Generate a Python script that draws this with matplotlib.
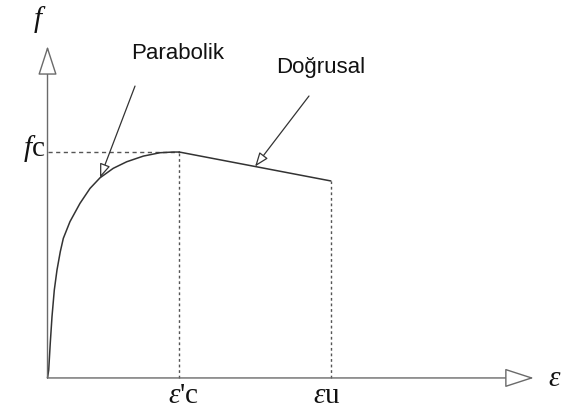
import numpy as np
import matplotlib.pyplot as plt

plt.rcParams['mathtext.fontset'] = 'custom'
plt.rcParams['mathtext.rm'] = 'Liberation Serif'
plt.rcParams['mathtext.it'] = 'Liberation Serif:italic'

# strain in per mille, stress normalised by fc
eps_c = 2.0
eps_u = 4.3
f_u = 0.872

# ascending (parabolic) branch
para_eps = [0.0, 0.018, 0.042, 0.068, 0.103, 0.144, 0.194, 0.240, 0.341, 0.493,
            0.645, 0.797, 0.998, 1.202, 1.454, 1.707, 1.909, 2.0]
para_f = [0.0, 0.035, 0.155, 0.271, 0.389, 0.478, 0.559, 0.618, 0.692, 0.773,
          0.839, 0.886, 0.928, 0.957, 0.982, 0.997, 1.0, 1.0]

# descending (linear) branch
lin_eps = [eps_c, eps_u]
lin_f = [1.0, f_u]

x_end = 7.38
y_end = 1.469

line_col = '#333333'
axis_col = '#6a6a6a'
ref_col = '#555555'

fig = plt.figure(figsize=(5.63, 4.15), dpi=100)
ax = fig.add_axes([0, 0, 1, 1])
ax.set_xlim(-0.721, 7.823)
ax.set_ylim(-0.164, 1.673)
ax.axis('off')

# axes with hollow arrow heads
axis_arrow = dict(arrowstyle='-|>,head_length=18.5,head_width=6.0', mutation_scale=1,
                  shrinkA=0, shrinkB=0, lw=1.0, ec=axis_col, fc='white')
ax.annotate('', xy=(x_end, 0), xytext=(0, 0), arrowprops=axis_arrow)
ax.annotate('', xy=(0, y_end), xytext=(0, 0), arrowprops=axis_arrow)

# reference lines
ax.plot([0, eps_c], [1.0, 1.0], color=ref_col, lw=1.0, ls=(0, (3, 2.5)))
ax.plot([eps_c, eps_c], [0, 1.0], color=ref_col, lw=1.0, ls=(0, (2, 2)))
ax.plot([eps_u, eps_u], [0, f_u], color=ref_col, lw=1.0, ls=(0, (2, 2)))

# stress-strain curve
ax.plot(para_eps, para_f, color=line_col, lw=1.1, solid_capstyle='round')
ax.plot(lin_eps, lin_f, color=line_col, lw=1.1, solid_capstyle='round')

# callouts
call_arrow = dict(arrowstyle='-|>,head_length=8.5,head_width=3.2', mutation_scale=1,
                  shrinkA=0, shrinkB=0, lw=0.9, ec=line_col, fc='white')
ax.annotate('', xy=(0.797, 0.886), xytext=(1.328, 1.292), arrowprops=call_arrow)
ax.annotate('', xy=(3.15, 0.936), xytext=(3.968, 1.248), arrowprops=call_arrow)
ax.text(1.98, 1.438, 'Parabolik', ha='center', va='center', fontsize=16,
        family='Liberation Sans', color='#111111')
ax.text(4.15, 1.376, 'Doğrusal', ha='center', va='center', fontsize=16,
        family='Liberation Sans', color='#111111')

# axis labels
serif = dict(family='Liberation Serif', color='#111111', fontsize=21)
ax.text(-0.12, 1.585, r'$f$', ha='center', va='center', **serif)
ax.text(-0.03, 0.982, r'$f$c', ha='right', va='baseline', **serif)
ax.text(2.06, -0.111, r"$\varepsilon$'c", ha='center', va='baseline', **serif)
ax.text(4.24, -0.111, r'$\varepsilon$u', ha='center', va='baseline', **serif)
ax.text(7.69, -0.035, r'$\varepsilon$', ha='center', va='baseline', **serif)

fig.savefig('out.png', dpi=100)
